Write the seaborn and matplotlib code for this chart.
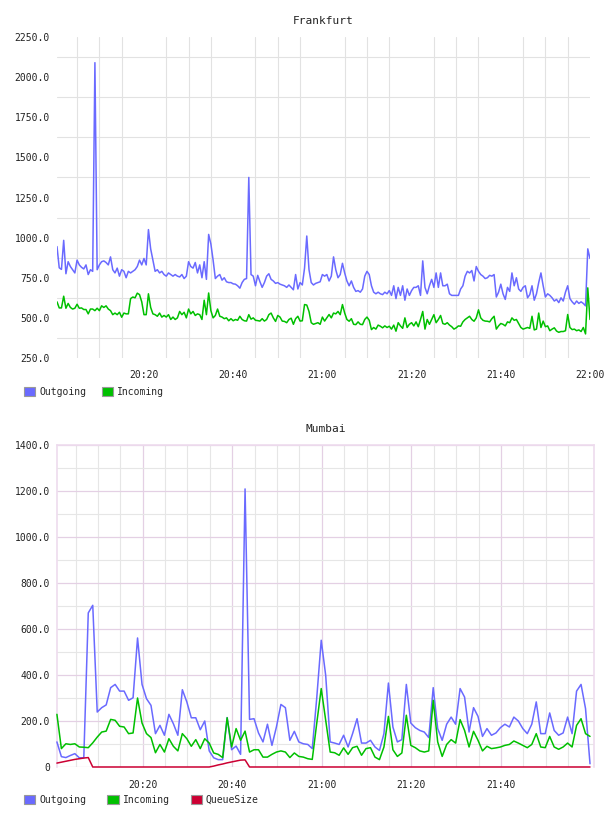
import numpy as np
import pandas as pd
import matplotlib
matplotlib.use("Agg")
import matplotlib.pyplot as plt
import seaborn as sns
from matplotlib.patches import Patch
from matplotlib.ticker import FuncFormatter

# --- data -------------------------------------------------------------
# Frankfurt: one sample every 30 s, minutes after 20:00
fra_start, fra_step = 0.5, 0.5
fra_out = [
    944, 812, 802, 983, 775, 850, 820, 800, 780, 860,
    830, 815, 805, 830, 770, 800, 790, 2090, 800, 830,
    850, 855, 845, 830, 880, 800, 780, 810, 760, 800,
    790, 750, 790, 780, 790, 800, 820, 860, 830, 870,
    830, 1050, 930, 860, 790, 800, 780, 790, 770, 760,
    780, 770, 760, 770, 760, 755, 770, 745, 760, 850,
    820, 810, 845, 780, 830, 750, 850, 740, 1020, 960,
    860, 745, 760, 770, 735, 750, 725, 720, 720, 712,
    710, 700, 685, 720, 740, 745, 1375, 770, 760, 700,
    765, 725, 690, 720, 760, 775, 740, 730, 715, 720,
    710, 705, 700, 690, 705, 690, 675, 770, 680, 720,
    705, 810, 1010, 800, 720, 705, 715, 720, 725, 770,
    760, 770, 730, 760, 880, 800, 750, 770, 840, 780,
    730, 700, 730, 690, 665, 670, 660, 680, 760, 790,
    770, 700, 660, 650, 660, 650, 645, 660, 650, 670,
    640, 700, 620, 690, 640, 700, 610, 680, 640, 670,
    690, 690, 700, 640, 855, 690, 650, 700, 740, 690,
    780, 690, 780, 700, 700, 710, 650, 640, 640, 640,
    640, 680, 700, 760, 790, 780, 795, 730, 820, 790,
    770, 760, 745, 750, 765, 760, 770, 630, 660, 710,
    650, 615, 690, 665, 780, 700, 750, 680, 665, 690,
    700, 625, 645, 700, 610, 650, 720, 780, 700, 630,
    650, 640, 625, 605, 615, 595, 625, 605, 660, 700,
    620, 600, 585, 605, 590, 600, 590, 575, 930, 870,
]
fra_in = [
    600, 562, 562, 635, 560, 590, 565, 555, 560, 585,
    560, 562, 552, 552, 525, 555, 555, 545, 560, 545,
    575, 565, 575, 555, 545, 520, 530, 520, 535, 504,
    530, 525, 525, 620, 630, 625, 654, 645, 600, 520,
    520, 650, 565, 525, 520, 510, 530, 505, 515, 505,
    520, 490, 505, 490, 500, 540, 520, 535, 500, 555,
    525, 540, 515, 525, 520, 490, 610, 520, 655, 545,
    500, 515, 555, 510, 505, 495, 500, 482, 495, 482,
    490, 485, 510, 490, 482, 480, 520, 492, 500, 485,
    483, 480, 495, 480, 490, 520, 530, 500, 478, 515,
    505, 480, 478, 470, 490, 498, 460, 495, 510, 480,
    482, 583, 580, 540, 470, 460, 465, 470, 460, 505,
    480, 500, 521, 500, 530, 525, 540, 520, 583, 530,
    490, 479, 495, 460, 458, 475, 460, 458, 490, 505,
    485, 427, 440, 430, 455, 448, 438, 450, 440, 448,
    430, 455, 417, 470, 450, 435, 500, 440, 460, 470,
    450, 475, 445, 490, 540, 430, 490, 460, 490, 520,
    470, 490, 515, 465, 460, 470, 455, 445, 430, 438,
    450, 448, 475, 490, 500, 510, 490, 479, 500, 550,
    500, 485, 480, 479, 475, 495, 510, 430, 450, 465,
    460, 450, 475, 470, 500, 485, 490, 465, 440, 430,
    435, 440, 435, 510, 425, 430, 530, 440, 480, 445,
    450, 420, 430, 438, 418, 410, 415, 415, 420, 521,
    440, 427, 430, 420, 425, 415, 440, 400, 687, 490,
]

# Mumbai: one sample per minute
mum_start, mum_step = 0.85, 1.0
mum_out = [
    109, 45, 41, 50, 58, 40, 40, 670, 703, 239,
    258, 270, 345, 359, 330, 330, 290, 301, 561, 359,
    297, 268, 145, 181, 138, 229, 188, 138, 336, 283,
    214, 214, 162, 200, 70, 40, 32, 32, 215, 75,
    91, 55, 1209, 207, 210, 148, 109, 186, 94, 174,
    272, 258, 116, 155, 109, 101, 98, 80, 300, 551,
    398, 109, 104, 98, 138, 87, 145, 210, 104, 104,
    116, 87, 72, 145, 365, 174, 109, 119, 359, 191,
    171, 159, 152, 128, 345, 167, 116, 186, 217, 186,
    341, 304, 152, 258, 220, 133, 167, 138, 148, 171,
    186, 174, 217, 200, 167, 145, 186, 283, 145, 145,
    235, 159, 138, 148, 217, 145, 330, 359, 254, 14,
]
mum_in = [
    229, 80, 101, 98, 101, 87, 86, 84, 105, 130,
    152, 156, 207, 203, 177, 174, 145, 148, 300, 191,
    145, 128, 62, 98, 65, 123, 90, 70, 145, 123,
    90, 119, 80, 123, 104, 61, 55, 41, 214, 87,
    167, 116, 156, 65, 75, 75, 43, 43, 55, 65,
    70, 65, 41, 61, 46, 43, 36, 33, 190, 341,
    203, 65, 62, 51, 83, 55, 84, 90, 51, 80,
    84, 43, 32, 87, 220, 75, 46, 61, 225, 94,
    84, 70, 65, 70, 290, 109, 46, 98, 119, 104,
    206, 159, 87, 155, 116, 70, 90, 80, 83, 87,
    94, 98, 113, 104, 94, 84, 98, 145, 87, 84,
    133, 87, 77, 87, 104, 87, 181, 210, 145, 133,
]
mum_queue = ([17, 21, 25, 29, 33, 36, 39, 41] + [0] * 27
             + [4, 9, 13, 18, 22, 26, 30, 31] + [0] * 77)

fra_series = ["Outgoing", "Incoming"]
mum_series = ["Outgoing", "Incoming", "QueueSize"]
colors = {"Outgoing": "#6a6aff", "Incoming": "#00c000", "QueueSize": "#cc0033"}


def to_long(start, step, cols):
    n = len(next(iter(cols.values())))
    minutes = start + step * np.arange(n)
    frames = [pd.DataFrame({"minute": minutes, "value": v, "series": k})
              for k, v in cols.items()]
    return pd.concat(frames, ignore_index=True)


fra_df = to_long(fra_start, fra_step, {"Outgoing": fra_out, "Incoming": fra_in})
mum_df = to_long(mum_start, mum_step, {"Outgoing": mum_out, "Incoming": mum_in,
                                       "QueueSize": mum_queue})

# --- style -------------------------------------------------------------
sns.set_style("white")
plt.rcParams["font.family"] = ["DejaVu Sans Mono"]
plt.rcParams["font.size"] = 7
FS = 7
TXT = "#222222"


def hhmm(m, pos=None):
    m = int(round(m))
    return f"{20 + m // 60}:{m % 60:02d}"


def leg(fig, names, x, y, spacing):
    handles = [Patch(facecolor=colors[n], edgecolor="#999999", lw=0.8) for n in names]
    fig.legend(handles, names, loc="center left", bbox_to_anchor=(x, y),
               ncol=len(names), frameon=False, fontsize=FS, borderpad=0,
               borderaxespad=0, handlelength=1.15, handleheight=1.05,
               handletextpad=0.4, columnspacing=spacing)


fig = plt.figure(figsize=(6.08, 8.16), dpi=100)
W, H = 608, 816

# --- Frankfurt ----------------------------------------------------------
ax1 = fig.add_axes([57 / W, 1 - 358 / H, 533 / W, 321 / H])
sns.lineplot(data=fra_df, x="minute", y="value", hue="series", hue_order=fra_series,
             palette=colors, linewidth=1.1, legend=False, ax=ax1)
ax1.set_xlim(0.5, 120)
ax1.set_ylim(250, 2250)
ax1.set_xticks(np.arange(20, 121, 20))
ax1.set_xticks(np.arange(5, 121, 5), minor=True)
ax1.set_yticks(np.arange(250, 2251, 250))
ax1.set_yticks(np.arange(375, 2250, 250), minor=True)
ax1.xaxis.set_major_formatter(FuncFormatter(hhmm))
ax1.yaxis.set_major_formatter(FuncFormatter(lambda v, p: f"{v:.1f}"))
ax1.grid(False)
ax1.grid(which="minor", color="#e2e2e2", lw=0.8)
ax1.set_axisbelow(True)
for s in ax1.spines.values():
    s.set_visible(False)
ax1.tick_params(which="both", length=0, labelsize=FS, colors=TXT)
ax1.tick_params(axis="x", pad=9)
ax1.tick_params(axis="y", pad=5)
ax1.set_xlabel("")
ax1.set_ylabel("")
ax1.set_title("Frankfurt", fontsize=8, color=TXT, pad=9)
leg(fig, fra_series, 24 / W, 1 - 392 / H, 1.6)

# --- Mumbai -------------------------------------------------------------
ax2 = fig.add_axes([57 / W, 1 - 767 / H, 537 / W, 322 / H])
sns.lineplot(data=mum_df, x="minute", y="value", hue="series", hue_order=mum_series,
             palette=colors, linewidth=1.1, legend=False, ax=ax2)
for ln in ax2.get_lines():
    ln.set_clip_on(False)
    ln.set_zorder(3)
ax2.set_xlim(0.87, 120.74)
ax2.set_ylim(0, 1400)
ax2.set_xticks(np.arange(20, 101, 20))
ax2.set_xticks(np.arange(5, 116, 5), minor=True)
ax2.set_yticks(np.arange(0, 1401, 200))
ax2.set_yticks(np.arange(100, 1400, 200), minor=True)
ax2.xaxis.set_major_formatter(FuncFormatter(hhmm))
ax2.yaxis.set_major_formatter(FuncFormatter(lambda v, p: "0" if v == 0 else f"{v:.1f}"))
ax2.xaxis.set_minor_formatter(FuncFormatter(lambda v, p: ""))
ax2.grid(which="minor", color="#e6e6e6", lw=0.8)
ax2.grid(which="major", color="#e4d0e4", lw=0.9)
ax2.set_axisbelow(True)
for s in ax2.spines.values():
    s.set_color("#eedcee")
    s.set_linewidth(1.2)
ax2.spines["bottom"].set_visible(False)
ax2.tick_params(which="both", length=0, labelsize=FS, colors=TXT)
ax2.tick_params(axis="x", pad=9)
ax2.tick_params(axis="y", pad=5)
ax2.set_xlabel("")
ax2.set_ylabel("")
ax2.set_title("Mumbai", fontsize=8, color=TXT, pad=9)
leg(fig, mum_series, 24 / W, 1 - 800 / H, 2.2)

fig.savefig("out.png", dpi=100)
